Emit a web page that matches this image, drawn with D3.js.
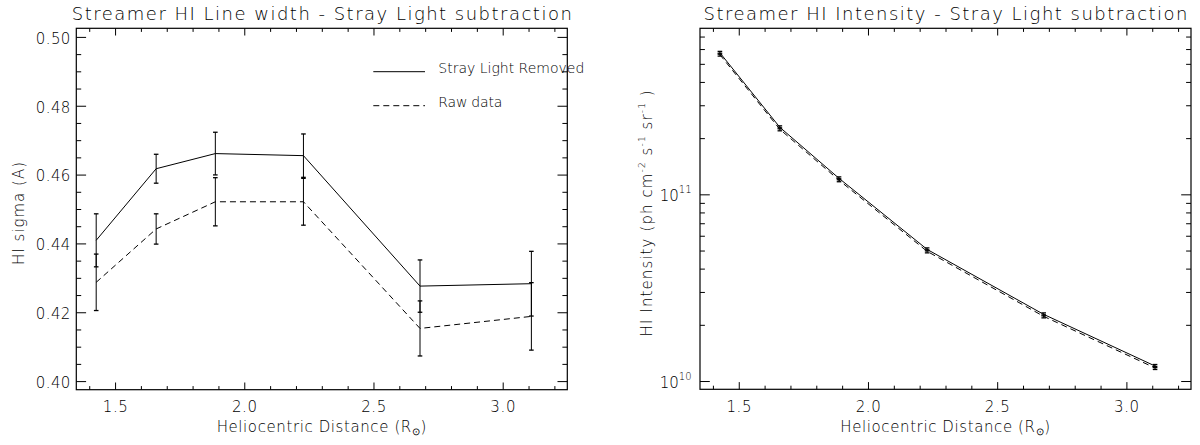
<!DOCTYPE html>
<html>
<head>
<meta charset="utf-8">
<script src="https://cdn.jsdelivr.net/npm/d3@7"></script>
<style>
  html, body { margin: 0; padding: 0; background: #fff; }
  svg { display: block; }
  text { font-family: "DejaVu Sans", sans-serif; font-weight: 200; fill: #000; }
</style>
</head>
<body>
<svg id="chart" width="1200" height="445"></svg>
<script>
// Heliocentric distances of the streamer observations (solar radii)
const distance = [1.427, 1.659, 1.888, 2.229, 2.680, 3.111];

// HI line width (sigma, Angstrom) with stray light removed, and its errors
const sigmaRemoved    = [0.4409, 0.4617, 0.4661, 0.4655, 0.4276, 0.4283];
const sigmaRemovedErr = [0.0077, 0.0042, 0.0062, 0.0063, 0.0076, 0.0094];
// HI line width from the raw data, and its errors
const sigmaRaw        = [0.4287, 0.4442, 0.4521, 0.4521, 0.4153, 0.4188];
const sigmaRawErr     = [0.0082, 0.0044, 0.0070, 0.0068, 0.0080, 0.0098];

// HI intensity (ph cm^-2 s^-1 sr^-1) with stray light removed, and raw
const intensityRemoved    = [5.73e11, 2.285e11, 1.218e11, 5.07e10, 2.275e10, 1.203e10];
const intensityRemovedErr = [1.0e10, 4.2e9, 2.2e9, 9.5e8, 4.2e8, 2.3e8];
const intensityRaw        = [5.60e11, 2.23e11, 1.19e11, 4.95e10, 2.22e10, 1.175e10];
const intensityRawErr     = [1.0e10, 4.1e9, 2.2e9, 9.2e8, 4.1e8, 2.2e8];

// Axis ticks
const distanceTicks = [1.5, 2.0, 2.5, 3.0];
const distanceMinor = [1.4, 1.6, 1.7, 1.8, 1.9, 2.1, 2.2, 2.3, 2.4, 2.6, 2.7, 2.8, 2.9, 3.1, 3.2];
const sigmaTicks    = [0.40, 0.42, 0.44, 0.46, 0.48, 0.50];
const sigmaMinor    = [0.405, 0.41, 0.415, 0.425, 0.43, 0.435, 0.445, 0.45, 0.455,
                       0.465, 0.47, 0.475, 0.485, 0.49, 0.495];
const intensityTicks = [1e10, 1e11];
const intensityTickExp = ["10", "11"];
const intensityMinor = [2e10, 3e10, 4e10, 5e10, 6e10, 7e10, 8e10, 9e10,
                        2e11, 3e11, 4e11, 5e11, 6e11, 7e11];

const titles = [
  "Streamer HI Line width - Stray Light subtraction",
  "Streamer HI Intensity - Stray Light subtraction"
];
const legendLabels = ["Stray Light Removed", "Raw data"];

const svg = d3.select("#chart");
const DASH = "6,4";
const FS = 15;

// Plot frames
const panels = [
  { left: 76.3, right: 567.3, top: 28.3, bottom: 389.7 },
  { left: 700.0, right: 1191.0, top: 28.3, bottom: 389.3 }
];

function frameAndXAxis(g, p, x) {
  const h = p.bottom - p.top;
  const w = p.right - p.left;
  const xMaj = 7.2, xMin = 3.6;
  // bottom axis with labels
  g.append("g").attr("transform", `translate(0,${p.bottom})`)
    .call(d3.axisBottom(x).tickValues(distanceTicks).tickSizeInner(-xMaj).tickSizeOuter(0)
      .tickPadding(12).tickFormat(d3.format(".1f")))
    .call(a => a.select(".domain").remove())
    .call(a => a.selectAll("text").attr("font-size", FS).attr("font-family", "DejaVu Sans")
      .attr("letter-spacing", 0.6));
  g.append("g").attr("transform", `translate(0,${p.bottom})`)
    .call(d3.axisBottom(x).tickValues(distanceMinor).tickSizeInner(-xMin).tickSizeOuter(0).tickFormat(""))
    .call(a => a.select(".domain").remove());
  // top axis, ticks only
  g.append("g").attr("transform", `translate(0,${p.top})`)
    .call(d3.axisTop(x).tickValues(distanceTicks).tickSizeInner(-xMaj).tickSizeOuter(0).tickFormat(""))
    .call(a => a.select(".domain").remove());
  g.append("g").attr("transform", `translate(0,${p.top})`)
    .call(d3.axisTop(x).tickValues(distanceMinor).tickSizeInner(-xMin).tickSizeOuter(0).tickFormat(""))
    .call(a => a.select(".domain").remove());
  // frame
  g.append("rect").attr("x", p.left).attr("y", p.top).attr("width", w).attr("height", h)
    .attr("fill", "none").attr("stroke", "#000").attr("stroke-width", 1.2);
  // x title
  const xt = g.append("text").attr("x", (p.left + p.right) / 2).attr("y", 432)
    .attr("text-anchor", "middle").attr("font-size", FS).attr("letter-spacing", 0.6);
  xt.append("tspan").text("Heliocentric Distance (R");
  xt.append("tspan").attr("font-size", 10).attr("dy", 3).text("\u2299");
  xt.append("tspan").attr("dy", -3).text(")");
}

function yMirror(g, p, y, major, minor) {
  const yMaj = 9.8, yMin = 4.9;
  g.append("g").attr("transform", `translate(${p.right},0)`)
    .call(d3.axisRight(y).tickValues(major).tickSizeInner(-yMaj).tickSizeOuter(0).tickFormat(""))
    .call(a => a.select(".domain").remove());
  g.append("g").attr("transform", `translate(${p.right},0)`)
    .call(d3.axisRight(y).tickValues(minor).tickSizeInner(-yMin).tickSizeOuter(0).tickFormat(""))
    .call(a => a.select(".domain").remove());
  g.append("g").attr("transform", `translate(${p.left},0)`)
    .call(d3.axisLeft(y).tickValues(minor).tickSizeInner(-yMin).tickSizeOuter(0).tickFormat(""))
    .call(a => a.select(".domain").remove());
}

function errorBars(g, x, y, vals, errs) {
  const cap = 2.3;
  const eb = g.append("g").attr("stroke", "#000").attr("stroke-width", 1).attr("fill", "none");
  distance.forEach((d, i) => {
    const cx = x(d), y0 = y(vals[i] - errs[i]), y1 = y(vals[i] + errs[i]);
    eb.append("line").attr("x1", cx).attr("x2", cx).attr("y1", y0).attr("y2", y1);
    eb.append("line").attr("x1", cx - cap).attr("x2", cx + cap).attr("y1", y0).attr("y2", y0).attr("stroke-width", 1.3);
    eb.append("line").attr("x1", cx - cap).attr("x2", cx + cap).attr("y1", y1).attr("y2", y1).attr("stroke-width", 1.3);
  });
}

function series(g, x, y, vals, dashed) {
  const line = d3.line().x((d, i) => x(distance[i])).y(d => y(d));
  g.append("path").datum(vals).attr("d", line).attr("fill", "none")
    .attr("stroke", "#000").attr("stroke-width", 1)
    .attr("stroke-dasharray", dashed ? DASH : null);
}

function title(g, p, t, len) {
  g.append("text").attr("x", (p.left + p.right) / 2).attr("y", 20)
    .attr("text-anchor", "middle").attr("font-size", 18)
    .attr("textLength", len).attr("lengthAdjust", "spacing").text(t);
}

// ---- Left panel: HI line width ----
{
  const p = panels[0];
  const g = svg.append("g");
  const x = d3.scaleLinear().domain([1.35, 3.25]).range([p.left, p.right]);
  const y = d3.scaleLinear().domain([0.3975, 0.5025]).range([p.bottom, p.top]);

  g.append("g").attr("transform", `translate(${p.left},0)`)
    .call(d3.axisLeft(y).tickValues(sigmaTicks).tickSizeInner(-9.8).tickSizeOuter(0)
      .tickPadding(5.5).tickFormat(d3.format(".2f")))
    .call(a => a.select(".domain").remove())
    .call(a => a.selectAll("text").attr("font-size", FS).attr("font-family", "DejaVu Sans")
      .attr("dy", "0.42em").attr("letter-spacing", 0.4));
  yMirror(g, p, y, sigmaTicks, sigmaMinor);
  frameAndXAxis(g, p, x);

  series(g, x, y, sigmaRemoved, false);
  series(g, x, y, sigmaRaw, true);
  errorBars(g, x, y, sigmaRemoved, sigmaRemovedErr);
  errorBars(g, x, y, sigmaRaw, sigmaRawErr);

  g.append("text").attr("transform", `translate(24,${(p.top + p.bottom) / 2 + 4}) rotate(-90)`)
    .attr("text-anchor", "middle").attr("font-size", FS).attr("letter-spacing", 1)
    .text("HI sigma (A)");

  // legend
  const lg = g.append("g");
  [0, 1].forEach(i => {
    const ly = 71.7 + i * 34;
    lg.append("line").attr("x1", 373.3).attr("x2", 425).attr("y1", ly).attr("y2", ly)
      .attr("stroke", "#000").attr("stroke-width", 1)
      .attr("stroke-dasharray", i === 1 ? DASH : null);
    lg.append("text").attr("x", 438.3).attr("y", ly + 0.8).attr("font-size", 14)
      .attr("textLength", i === 0 ? 146 : 64).attr("lengthAdjust", "spacing")
      .text(legendLabels[i]);
  });

  title(g, p, titles[0], 500);
}

// ---- Right panel: HI intensity (log scale) ----
{
  const p = panels[1];
  const g = svg.append("g");
  const x = d3.scaleLinear().domain([1.35, 3.25]).range([p.left, p.right]);
  const y = d3.scaleLog().domain([9.03e9, 7.75e11]).range([p.bottom, p.top]);

  g.append("g").attr("transform", `translate(${p.left},0)`)
    .call(d3.axisLeft(y).tickValues(intensityTicks).tickSizeInner(-9.8).tickSizeOuter(0).tickFormat(""))
    .call(a => a.select(".domain").remove());
  yMirror(g, p, y, intensityTicks, intensityMinor);
  frameAndXAxis(g, p, x);

  intensityTicks.forEach((v, i) => {
    const t = g.append("text").attr("x", p.left - 8.5).attr("y", y(v) + 6.5)
      .attr("text-anchor", "end").attr("font-size", FS);
    t.append("tspan").text("10");
    t.append("tspan").attr("font-size", 10).attr("dy", -8).text(intensityTickExp[i]);
  });

  series(g, x, y, intensityRemoved, false);
  series(g, x, y, intensityRaw, true);
  errorBars(g, x, y, intensityRemoved, intensityRemovedErr);
  errorBars(g, x, y, intensityRaw, intensityRawErr);

  const yl = g.append("text")
    .attr("transform", `translate(652,${(p.top + p.bottom) / 2 + 4}) rotate(-90)`)
    .attr("text-anchor", "middle").attr("font-size", FS).attr("letter-spacing", 1.1);
  yl.append("tspan").text("HI Intensity (ph cm");
  yl.append("tspan").attr("font-size", 9).attr("dy", -7).text("-2");
  yl.append("tspan").attr("dy", 7).text(" s");
  yl.append("tspan").attr("font-size", 9).attr("dy", -7).text("-1");
  yl.append("tspan").attr("dy", 7).text(" sr");
  yl.append("tspan").attr("font-size", 9).attr("dy", -7).text("-1");
  yl.append("tspan").attr("dy", 7).text(" )");

  title(g, p, titles[1], 484);
}
</script>
</body>
</html>
